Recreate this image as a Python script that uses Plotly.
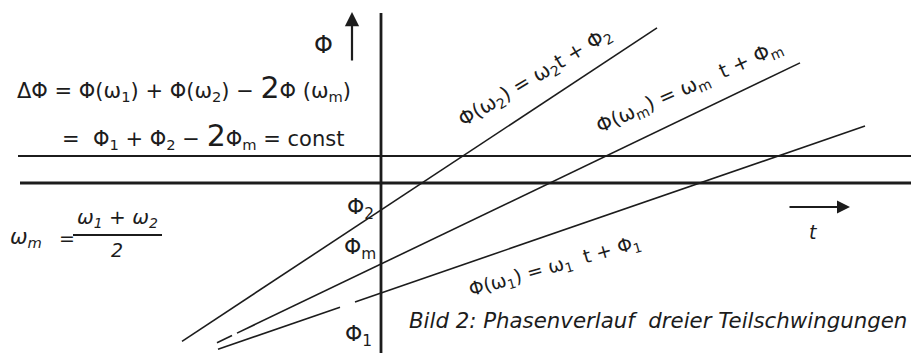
import plotly.graph_objects as go

# Phase lines  Phi(omega) = omega * t + Phi0
omega = {"1": 0.345, "m": 0.48, "2": 0.66}
phi0 = {"1": 0.60, "m": 0.89, "2": 1.43}
# drawn t-intervals for each line (pieces separated by small gaps)
segments = {
    "2": [(-1.99, 2.76)],
    "m": [(-1.64, -1.49), (-1.44, 4.19)],
    "1": [(-1.63, -0.41), (-0.26, 4.84)],
}
# horizontal reference levels
level_thin = 1.97
level_thick = 1.70
level_start = [-3.63, -3.61]

T_RANGE = [-3.81, 5.30]
P_RANGE = [0.0, 3.53]
INK = "#1c1c1c"
FONT = "DejaVu Sans"

fig = go.Figure()

for key, pieces in segments.items():
    for t0, t1 in pieces:
        fig.add_trace(go.Scatter(
            x=[t0, t1],
            y=[omega[key] * t0 + phi0[key], omega[key] * t1 + phi0[key]],
            mode="lines", line=dict(color=INK, width=1.6),
            hoverinfo="skip", showlegend=False))

# horizontal levels
fig.add_trace(go.Scatter(x=[level_start[0], T_RANGE[1]], y=[level_thin, level_thin],
                         mode="lines", line=dict(color=INK, width=1.8),
                         hoverinfo="skip", showlegend=False))
fig.add_trace(go.Scatter(x=[level_start[1], T_RANGE[1]], y=[level_thick, level_thick],
                         mode="lines", line=dict(color=INK, width=3),
                         hoverinfo="skip", showlegend=False))
# Phi axis
fig.add_trace(go.Scatter(x=[0, 0], y=[P_RANGE[0], 3.40],
                         mode="lines", line=dict(color=INK, width=2.8),
                         hoverinfo="skip", showlegend=False))


def text(x, y, s, size=19, angle=0, anchor="center", italic=False):
    fig.add_annotation(x=x, y=y, xref="x", yref="y", text=s, showarrow=False,
                       textangle=angle, xanchor=anchor, yanchor="middle",
                       font=dict(family=FONT, size=size, color=INK,
                                 style="italic" if italic else "normal"))


# axis arrows
fig.add_annotation(x=-0.29, y=3.41, ax=-0.29, ay=2.91, xref="x", yref="y",
                   axref="x", ayref="y", text="", showarrow=True,
                   arrowhead=2, arrowsize=1.3, arrowwidth=2.2, arrowcolor=INK)
fig.add_annotation(x=4.69, y=1.46, ax=4.07, ay=1.46, xref="x", yref="y",
                   axref="x", ayref="y", text="", showarrow=True,
                   arrowhead=2, arrowsize=1.3, arrowwidth=2.0, arrowcolor=INK)
text(-0.58, 3.08, "Φ", size=24)
text(4.32, 1.21, "t", size=19, italic=True)

# equations top left
text(-3.66, 2.66,
     "ΔΦ = Φ(ω<sub>1</sub>) + Φ(ω<sub>2</sub>) − <span style='font-size:30px'>2</span>Φ (ω<sub>m</sub>)",
     size=21, anchor="left")
text(-3.21, 2.18,
     "=  Φ<sub>1</sub> + Φ<sub>2</sub> − <span style='font-size:30px'>2</span>Φ<sub>m</sub> = const",
     size=21, anchor="left")

# omega_m definition
text(-3.55, 1.15, "ω<sub>m</sub>", size=21, italic=True)
text(-3.14, 1.15, "=", size=19)
text(-2.64, 1.35, "ω<sub>1</sub> + ω<sub>2</sub>", size=20, italic=True)
text(-2.64, 1.03, "2", size=19, italic=True)
fig.add_shape(type="line", xref="x", yref="y", x0=-3.08, x1=-2.19, y0=1.18, y1=1.18,
              line=dict(color=INK, width=1.8))

# intercept labels on the Phi axis
text(-0.21, 1.45, "Φ<sub>2</sub>", size=22)
text(-0.21, 1.05, "Φ<sub>m</sub>", size=22)
text(-0.23, 0.18, "Φ<sub>1</sub>", size=22)

# labels along the phase lines
text(1.54, 2.76, "Φ(ω<sub>2</sub>) = ω<sub>2</sub>t + Φ<sub>2</sub>", size=20, angle=-31)
text(3.08, 2.66, "Φ(ω<sub>m</sub>) = ω<sub>m</sub>  t + Φ<sub>m</sub>", size=20, angle=-24)
text(1.74, 0.87, "Φ(ω<sub>1</sub>) = ω<sub>1</sub>  t + Φ<sub>1</sub>", size=19, angle=-16)

# caption
text(0.26, 0.33, "Bild 2: Phasenverlauf  dreier Teilschwingungen", size=21.3,
     anchor="left", italic=True)

fig.update_layout(
    width=911, height=353, margin=dict(l=0, r=0, t=0, b=0),
    paper_bgcolor="white", plot_bgcolor="white",
    xaxis=dict(range=T_RANGE, visible=False, fixedrange=True),
    yaxis=dict(range=P_RANGE, visible=False, fixedrange=True),
)

fig.write_html("out.html")
